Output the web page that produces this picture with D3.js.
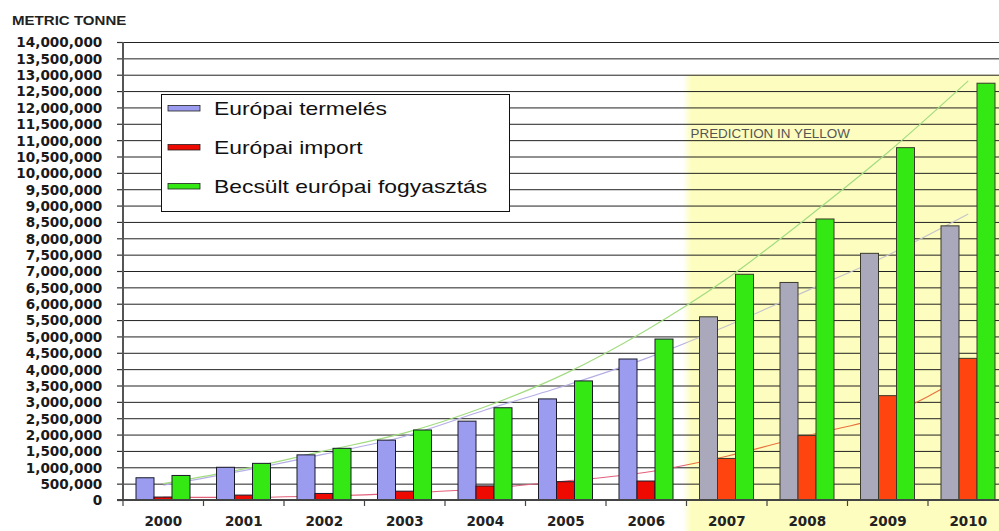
<!DOCTYPE html>
<html><head><meta charset="utf-8">
<script src="https://cdn.jsdelivr.net/npm/d3@7"></script>
<style>body{margin:0;background:#fff}svg{display:block}</style>
</head><body><svg id="c" width="999" height="531"></svg>
<script>
// ---- data ----
const years = ["2000","2001","2002","2003","2004","2005","2006","2007","2008","2009","2010"];
const production  = [680000, 1000000, 1380000, 1830000, 2410000, 3090000, 4310000, 5600000, 6650000, 7540000, 8380000];
const imports     = [90000, 150000, 200000, 270000, 430000, 560000, 580000, 1270000, 1970000, 3190000, 4330000];
const consumption = [750000, 1120000, 1580000, 2140000, 2820000, 3640000, 4920000, 6900000, 8590000, 10770000, 12740000];
const productionTrend  = [450000, 900000, 1400000, 1950000, 2750000, 3500000, 4330000, 5320000, 6400000, 7480000, 8740000];
const importTrend      = [80000, 80000, 120000, 210000, 350000, 580000, 850000, 1340000, 1970000, 2600000, 3850000];
const consumptionTrend = [500000, 950000, 1500000, 2050000, 2850000, 3870000, 5190000, 6760000, 8630000, 10620000, 12810000];
const seriesNames = ["Európai termelés", "Európai import", "Becsült európai fogyasztás"];
const firstForecastYear = "2007";
const forecastTop = 13000000;
const yTickValues = [0,500000,1000000,1500000,2000000,2500000,3000000,3500000,4000000,4500000,5000000,5500000,6000000,6500000,7000000,7500000,8000000,8500000,9000000,9500000,10000000,10500000,11000000,11500000,12000000,12500000,13000000,13500000,14000000];
const yAxisTitle = "METRIC TONNE";
const forecastNote = "PREDICTION IN YELLOW";

// ---- layout ----
const svg = d3.select("#c");
const L = 123, R = 1008.5, T = 42, B = 500;
const x = d3.scaleBand().domain(years).range([L, R]);
const y = d3.scaleLinear().domain([0, 14000000]).range([B, T]);
const keys = ["p", "i", "c"];
const xs = d3.scaleBand().domain(keys).range([13, 67]);
const isFc = yr => years.indexOf(yr) >= years.indexOf(firstForecastYear);
const col = {
  p: [ "#9b9bf0", "#a9a9bb" ],
  i: [ "#ee0a00", "#ff4410" ],
  c: [ "#34e814", "#34e814" ]
};
const vals = { p: production, i: imports, c: consumption };

// yellow forecast zone
const defs = svg.append("defs");
const yg = defs.append("linearGradient").attr("id", "yg").attr("gradientUnits", "userSpaceOnUse")
  .attr("x1", x(firstForecastYear) - 4).attr("x2", x(firstForecastYear) + 5).attr("y1", 0).attr("y2", 0);
yg.append("stop").attr("offset", 0).attr("stop-color", "#ffffff");
yg.append("stop").attr("offset", 1).attr("stop-color", "#fdfdbf");
svg.append("rect")
  .attr("x", x(firstForecastYear) - 4).attr("y", y(forecastTop))
  .attr("width", 999 - x(firstForecastYear) + 4).attr("height", 531 - y(forecastTop))
  .attr("fill", "url(#yg)");

// gridlines
svg.append("g").attr("transform", `translate(${L},0)`)
  .call(d3.axisLeft(y).tickValues(yTickValues).tickSize(-(R - L)).tickFormat(""))
  .call(g => g.select(".domain").remove())
  .call(g => g.selectAll("line").attr("stroke", "#222").attr("stroke-width", 1));

// y axis with labels
const yAx = svg.append("g").attr("transform", `translate(${L},0)`)
  .call(d3.axisLeft(y).tickValues(yTickValues).tickSize(6).tickPadding(14.7).tickFormat(d3.format(",")))
  .call(g => g.select(".domain").remove());
yAx.selectAll("line").attr("stroke", "#333").attr("stroke-width", 1.2);
yAx.selectAll("text").attr("font-family", "DejaVu Sans").attr("font-weight", "bold")
  .attr("font-size", "13.6px").attr("fill", "#1a1a1a").attr("dy", "0.36em");

// trend lines (behind bars)
const tl = d3.line().x((d, i) => x(years[i]) + x.bandwidth() / 2).y(d => y(d)).curve(d3.curveMonotoneX);
const pg = defs.append("linearGradient").attr("id", "pg").attr("gradientUnits", "userSpaceOnUse")
  .attr("x1", x(firstForecastYear) - 2).attr("x2", x(firstForecastYear) + 2).attr("y1", 0).attr("y2", 0);
pg.append("stop").attr("offset", 0).attr("stop-color", "#b4aee6");
pg.append("stop").attr("offset", 1).attr("stop-color", "#c4c4cc");
const rg = defs.append("linearGradient").attr("id", "rg").attr("gradientUnits", "userSpaceOnUse")
  .attr("x1", x(firstForecastYear) - 2).attr("x2", x(firstForecastYear) + 2).attr("y1", 0).attr("y2", 0);
rg.append("stop").attr("offset", 0).attr("stop-color", "#e2607a");
rg.append("stop").attr("offset", 1).attr("stop-color", "#e8703c");
svg.append("path").attr("d", tl(productionTrend)).attr("fill", "none").attr("stroke", "url(#pg)").attr("stroke-width", 1.2);
svg.append("path").attr("d", tl(importTrend)).attr("fill", "none").attr("stroke", "url(#rg)").attr("stroke-width", 1.1);
svg.append("path").attr("d", tl(consumptionTrend)).attr("fill", "none").attr("stroke", "#a2dc80").attr("stroke-width", 1.2);

// bars
keys.forEach(k => {
  svg.append("g").selectAll("rect").data(years).join("rect")
    .attr("x", yr => x(yr) + xs(k))
    .attr("width", xs.bandwidth())
    .attr("y", (yr, i) => y(vals[k][i]))
    .attr("height", (yr, i) => B - y(vals[k][i]))
    .attr("fill", yr => col[k][isFc(yr) ? 1 : 0])
    .attr("stroke", yr => isFc(yr) ? "#3a3a2a" : "#1a1a2a")
    .attr("stroke-width", 1);
});

// axis lines
svg.append("line").attr("x1", L).attr("x2", L).attr("y1", T).attr("y2", B + 1)
  .attr("stroke", "#555").attr("stroke-width", 2);
svg.append("line").attr("x1", L - 6).attr("x2", R).attr("y1", B).attr("y2", B)
  .attr("stroke", "#444").attr("stroke-width", 2);

// x ticks at band edges + labels
const xAx = svg.append("g").attr("transform", `translate(0,${B})`)
  .call(d3.axisBottom(x).tickSize(0).tickPadding(16.5))
  .call(g => g.select(".domain").remove());
xAx.selectAll("text").attr("font-family", "DejaVu Sans").attr("font-weight", "bold")
  .attr("font-size", "13.5px").attr("fill", "#222").attr("dy", "0.71em");
svg.append("g").selectAll("line").data(years).join("line")
  .attr("x1", yr => x(yr)).attr("x2", yr => x(yr)).attr("y1", B).attr("y2", B + 6)
  .attr("stroke", "#444").attr("stroke-width", 1.2);

// titles
svg.append("text").attr("transform", "translate(12,25) scale(1.16,1)")
  .attr("font-family", "Liberation Sans").attr("font-weight", "bold").attr("font-size", "13px")
  .attr("fill", "#222").text(yAxisTitle);
svg.append("text").attr("transform", `translate(${x(firstForecastYear) + 4},137.5) scale(1.05,1)`)
  .attr("font-family", "Liberation Sans").attr("font-size", "12.8px")
  .attr("fill", "#555").text(forecastNote);

// legend
const lg = svg.append("g");
lg.append("rect").attr("x", 161.5).attr("y", 94.5).attr("width", 348).attr("height", 117)
  .attr("fill", "#fff").attr("stroke", "#111").attr("stroke-width", 1);
const legendY = [115, 154, 193];
keys.forEach((k, i) => {
  lg.append("rect").attr("x", 168).attr("y", legendY[i] - 9.5).attr("width", 32).attr("height", 5.5)
    .attr("fill", col[k][0]).attr("stroke", "#222").attr("stroke-width", 0.8);
  lg.append("text").attr("transform", `translate(214,${legendY[i]}) scale(1.25,1)`)
    .attr("font-family", "Liberation Sans").attr("font-size", "18.3px").attr("fill", "#111")
    .text(seriesNames[i]);
});
</script></body></html>
